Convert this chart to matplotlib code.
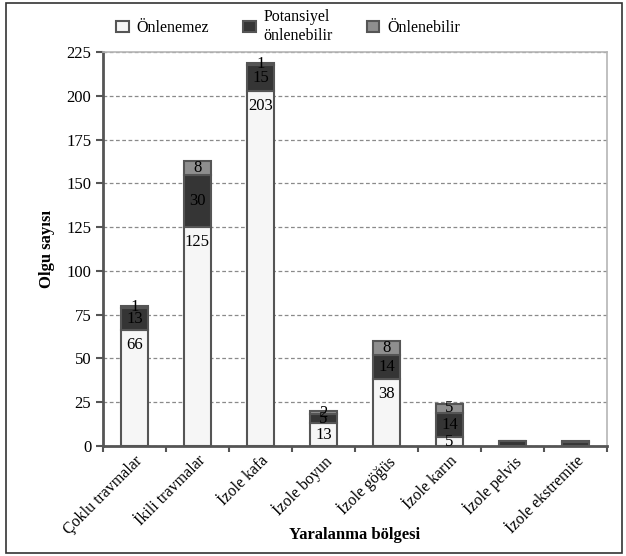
import matplotlib.pyplot as plt
import numpy as np
from matplotlib.patches import Rectangle

plt.rcParams["font.family"] = ["Liberation Serif", "DejaVu Serif"]

regions = ["Çoklu travmalar", "İkili travmalar", "İzole kafa", "İzole boyun",
           "İzole göğüs", "İzole karın", "İzole pelvis", "İzole ekstremite"]
onlenemez = [66, 125, 203, 13, 38, 5, 0, 0]
potansiyel = [13, 30, 15, 5, 14, 14, 3, 2]
onlenebilir = [1, 8, 1, 2, 8, 5, 0, 1]
# small bars at the end carry no value labels
labelled = [True, True, True, True, True, True, False, False]

fig = plt.figure(figsize=(6.26, 5.56), dpi=100)
ax = fig.add_axes([0.1645, 0.198, 0.805, 0.708])

x = np.arange(len(regions))
w = 0.43
edge = "#555555"
b1 = ax.bar(x, onlenemez, w, color="#f6f6f6", edgecolor=edge, linewidth=1.5,
            label="Önlenemez", zorder=3)
b2 = ax.bar(x, potansiyel, w, bottom=onlenemez, color="#353535", edgecolor=edge,
            linewidth=1.5, label="Potansiyel\nönlenebilir", zorder=3)
bottom3 = np.array(onlenemez) + np.array(potansiyel)
b3 = ax.bar(x, onlenebilir, w, bottom=bottom3, color="#8e8e8e", edgecolor=edge,
            linewidth=1.5, label="Önlenebilir", zorder=3)

# value labels inside the segments
for i in range(len(regions)):
    if not labelled[i]:
        continue
    a, p, o = onlenemez[i], potansiyel[i], onlenebilir[i]
    if a:
        ax.text(x[i], max(a / 2, a - 8.6), str(a), ha="center", va="center",
                fontsize=12, zorder=4)
    if p:
        ax.text(x[i], a + p / 2, str(p), ha="center", va="center",
                fontsize=12, zorder=4)
    if o:
        ax.text(x[i], a + p + o / 2, str(o), ha="center", va="center",
                fontsize=12, zorder=4)

ax.set_xlim(-0.5, len(regions) - 0.5)
ax.set_ylim(0, 225)
ax.set_yticks(np.arange(0, 226, 25))
ax.yaxis.grid(True, linestyle=(0, (3, 2)), color="#8a8a8a", linewidth=0.9, zorder=0)

ax.set_xticks(x)
ax.set_xticklabels(regions, rotation=45, ha="right", rotation_mode="anchor",
                   fontsize=11.5)
ax.set_xticks(np.arange(-0.5, len(regions), 1), minor=True)
ax.tick_params(axis="x", which="major", length=0, pad=5)
ax.tick_params(axis="x", which="minor", length=4, color="#555555", width=1.5)
ax.tick_params(axis="y", length=5, color="#555555", width=1.5, labelsize=12)

for side in ["top", "right"]:
    ax.spines[side].set_color("#b5b5b5")
    ax.spines[side].set_linewidth(1.2)
for side in ["left", "bottom"]:
    ax.spines[side].set_color("#555555")
    ax.spines[side].set_linewidth(2)

ax.set_ylabel("Olgu sayısı", fontsize=12, fontweight="bold", labelpad=8)
ax.set_xlabel("Yaralanma bölgesi", fontsize=12, fontweight="bold")
ax.xaxis.set_label_coords(0.5, -0.205)

fig.legend(handles=[b1, b2, b3], loc="upper left", bbox_to_anchor=(0.175, 0.995),
           ncol=3, frameon=False, fontsize=11.5, handlelength=0.8, handleheight=0.7,
           handletextpad=0.5, columnspacing=2.1, borderaxespad=0)

# frame around the whole figure
fig.patches.append(Rectangle((0.01, 0.006), 0.983, 0.988, transform=fig.transFigure,
                             fill=False, edgecolor="#333333", linewidth=1.2))

fig.savefig("out.png", dpi=100)
